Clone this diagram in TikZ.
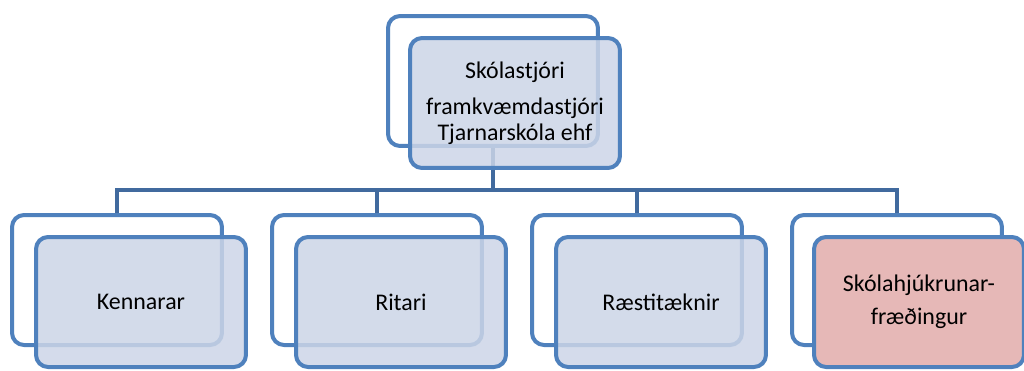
\documentclass[tikz,border=0pt]{standalone}
\usepackage{fontspec}
\setmainfont{Carlito}
\usepackage{tikz}
\usetikzlibrary{positioning}

\definecolor{boxline}{RGB}{79,129,189}
\definecolor{connline}{RGB}{65,106,158}
\definecolor{frontfill}{RGB}{204,213,231}
\definecolor{pinkfill}{RGB}{230,184,183}

\begin{document}
\begin{tikzpicture}[x=0.02cm, y=-0.02cm,
	backbox/.style={rectangle, rounded corners=0.24cm, draw=boxline, line width=0.08cm, fill=white, minimum width=4.2cm, minimum height=2.6cm, inner sep=0pt},
	frontbox/.style={backbox, fill=frontfill, fill opacity=0.85, text opacity=1, align=center, font=\fontsize{13.6}{14.7}\selectfont},
	pinkbox/.style={frontbox, fill=pinkfill, fill opacity=1},
	conn/.style={draw=connline, line width=0.08cm}]
	\useasboundingbox (0,0) rectangle (1024,370);

	% back boxes
	\node (topb) [backbox] at (493,81) {};
	\node (kb) [backbox] at (117,280) {};
	\node (rb) [backbox] at (377,280) {};
	\node (sb) [backbox] at (637,280) {};
	\node (hb) [backbox] at (897,280) {};

	% connectors
	\coordinate (bus) at (493,190);
	\draw [conn] (topb.south) -- (bus) -| (kb.north);
	\draw [conn] (bus) -| (rb.north);
	\draw [conn] (bus) -| (sb.north);
	\draw [conn] (bus) -| (hb.north);

	% front boxes
	\node (topf) [frontbox] at (515,103) {Skólastjóri\\[5.7pt]framkvæmdastjóri\\Tjarnarskóla ehf};
	\node (kf) [frontbox] at (141,302) {Kennarar};
	\node (rf) [frontbox] at (401,302) {Ritari};
	\node (sf) [frontbox] at (661,302) {Ræstitæknir};
	\node (hf) [pinkbox] at (919,302) {Skólahjúkrunar-\\[4pt]fræðingur};
\end{tikzpicture}
\end{document}
